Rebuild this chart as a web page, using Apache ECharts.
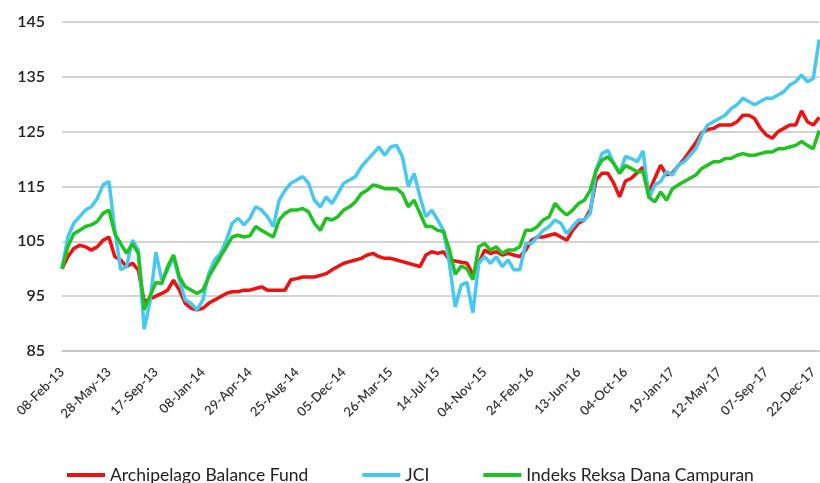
<!DOCTYPE html>
<html>
<head>
<meta charset="utf-8">
<script src="https://cdn.jsdelivr.net/npm/echarts@6/dist/echarts.min.js"></script>
<style>
  html, body { margin: 0; padding: 0; background: #fff; }
  #chart { width: 820px; height: 483px; }
</style>
</head>
<body>
<div id="chart"></div>
<script>
// tick labels on the x axis (every 8th sample)
var labelDates = ['08-Feb-13', '28-May-13', '17-Sep-13', '08-Jan-14', '29-Apr-14', '25-Aug-14',
    '05-Dec-14', '26-Mar-15', '14-Jul-15', '04-Nov-15', '24-Feb-16', '13-Jun-16', '04-Oct-16',
    '19-Jan-17', '12-May-17', '07-Sep-17', '22-Dec-17'];
var tailDate = '29-Dec-17';
var stepsPerLabel = 8;

var seriesNames = ['Archipelago Balance Fund', 'JCI', 'Indeks Reksa Dana Campuran'];

var archipelago = [
    100, 102.2, 103.7, 104.3, 104, 103.4, 104, 105.2,
    105.8, 102.2, 101.6, 100.4, 101, 99.8, 94, 94.5,
    95, 95.5, 96.1, 97.9, 96.1, 93.7, 92.8, 92.5,
    92.8, 93.7, 94.3, 94.9, 95.5, 95.8, 95.8, 96.1,
    96.1, 96.4, 96.7, 96.1, 96.1, 96.1, 96.1, 98,
    98.2, 98.5, 98.5, 98.5, 98.8, 99.1, 99.8, 100.4,
    101, 101.3, 101.6, 101.9, 102.5, 102.8, 102.2, 101.9,
    101.9, 101.6, 101.3, 101, 100.7, 100.4, 102.5, 103.1,
    102.8, 103.1, 101.6, 101.4, 101.2, 101, 99, 101,
    103.4, 102.8, 103.1, 102.5, 102.8, 102.5, 102.2, 103.4,
    105.2, 105.8, 105.8, 106.1, 106.4, 105.8, 105.2, 107,
    108.3, 108.9, 110.7, 116.2, 117.4, 117.4, 115.6, 113.1,
    116, 116.5, 117.5, 118.5, 114, 116.5, 118.9, 117.1,
    117.5, 118.8, 120, 121.5, 123, 124.8, 125.4, 125.6,
    126.2, 126.2, 126.2, 126.8, 128, 128, 127.4, 125.6,
    124.4, 123.8, 125, 125.6, 126.2, 126.2, 128.8, 126.8,
    126.2, 127.6
];

var jci = [
    100, 105.8, 108.3, 109.5, 110.7, 111.3, 112.8, 115.3,
    115.9, 107, 99.8, 100.4, 105.2, 103.4, 89, 94,
    103, 97.9, 99.8, 102.2, 97.9, 94.3, 93.7, 92.5,
    94.3, 99.1, 101.6, 102.8, 105.2, 108.3, 109.2, 108,
    109.2, 111.3, 110.7, 109.5, 107.7, 112.5, 114.3, 115.6,
    116.2, 116.8, 115.6, 112.5, 111.3, 113.1, 111.9, 113.7,
    115.6, 116.2, 116.8, 118.6, 119.8, 121, 122.2, 120.7,
    122.2, 122.5, 120.4, 115, 117.4, 113.1, 109.5, 110.7,
    108.9, 107, 101, 93, 97, 97.5, 92, 101,
    102.2, 101, 102.2, 100.4, 101.6, 99.8, 99.8, 104.6,
    104.6, 105.8, 107, 107.7, 108.9, 108.3, 106.4, 107.7,
    108.9, 108.9, 110.1, 118, 121, 121.6, 119.2, 117.4,
    120.5, 120.1, 119.5, 121.5, 112.8, 115.3, 115.9, 117.7,
    117.1, 118.9, 119.5, 120.7, 121.9, 124.4, 126.2, 126.8,
    127.4, 128, 129.2, 129.9, 131.1, 130.5, 129.9, 130.5,
    131.1, 131.1, 131.7, 132.3, 133.5, 134.1, 135.3, 134.1,
    134.7, 141.8
];

var campuran = [
    100, 104, 106.4, 107, 107.7, 108, 108.6, 110.1,
    110.7, 106.4, 104.6, 102.8, 104.6, 102.8, 92.5, 95,
    97.5, 97.3, 100.4, 102.5, 98.5, 96.7, 96.1, 95.5,
    96.1, 98.5, 100.4, 102.2, 104, 105.8, 106.1, 105.8,
    106, 107.7, 107, 106.4, 105.8, 108.9, 110.1, 110.7,
    110.7, 111, 110.4, 108.3, 107, 109.2, 108.9, 109.5,
    110.7, 111.3, 112.2, 113.7, 114.3, 115.3, 115, 114.6,
    114.6, 114.6, 113.7, 111.3, 112.5, 110.1, 107.7, 107.7,
    107, 106.8, 103.5, 99, 100.5, 100, 98, 104,
    104.6, 103.4, 104, 102.8, 103.4, 103.4, 104, 107,
    107, 107.7, 108.9, 109.5, 111.9, 110.7, 109.8, 110.7,
    111.9, 112.5, 114.3, 118, 119.8, 120.4, 119.2, 117.4,
    118.8, 118.3, 117.7, 117.7, 113, 112.2, 114, 112.5,
    114.6, 115.3, 115.9, 116.5, 117.1, 118.3, 118.9, 119.5,
    119.5, 120.1, 120.1, 120.7, 121, 120.7, 120.7, 121,
    121.3, 121.3, 121.9, 121.9, 122.2, 122.5, 123.2, 122.5,
    121.9, 125.2
];

var monthNames = ['Jan', 'Feb', 'Mar', 'Apr', 'May', 'Jun', 'Jul', 'Aug', 'Sep', 'Oct', 'Nov', 'Dec'];

function parseDate(s) {
    var p = s.split('-');
    return new Date(2000 + parseInt(p[2], 10), monthNames.indexOf(p[1]), parseInt(p[0], 10));
}

function fmtDate(d) {
    var dd = d.getDate();
    return (dd < 10 ? '0' : '') + dd + '-' + monthNames[d.getMonth()] + '-' + String(d.getFullYear()).slice(2);
}

// category dates: label dates with the sample dates in between
var categories = [];
for (var k = 0; k < labelDates.length - 1; k++) {
    var a = parseDate(labelDates[k]).getTime();
    var b = parseDate(labelDates[k + 1]).getTime();
    for (var j = 0; j < stepsPerLabel; j++) {
        if (j === 0) {
            categories.push(labelDates[k]);
        } else {
            var t = a + (b - a) * j / stepsPerLabel;
            categories.push(fmtDate(new Date(Math.round(t / 86400000) * 86400000 + 43200000)));
        }
    }
}
categories.push(labelDates[labelDates.length - 1]);
categories.push(tailDate);

var chart = echarts.init(document.getElementById('chart'));
chart.setOption({
    animation: false,
    color: ['#ee1111', '#45c9f0', '#1fc21f'],
    grid: {
        left: 62,
        right: 0,
        top: 22,
        bottom: 132
    },
    legend: {
        top: 461,
        left: 62,
        icon: 'rect',
        itemWidth: 38,
        itemHeight: 4,
        itemGap: 54,
        textStyle: {
            fontFamily: 'Lato',
            fontSize: 17.5,
            color: '#222'
        },
        data: seriesNames
    },
    xAxis: {
        type: 'category',
        boundaryGap: false,
        data: categories,
        axisLine: { lineStyle: { color: '#c4c4c4', width: 1.5 } },
        axisTick: { show: false },
        axisLabel: {
            interval: stepsPerLabel - 1,
            rotate: 45,
            margin: 19,
            fontFamily: 'Lato',
            fontSize: 13,
            fontWeight: 600,
            color: '#333'
        }
    },
    yAxis: {
        type: 'value',
        min: 85,
        max: 145,
        interval: 10,
        axisLine: { show: false },
        axisTick: { show: false },
        splitLine: { lineStyle: { color: '#c4c4c4', width: 1.5 } },
        axisLabel: {
            margin: 17,
            fontFamily: 'Lato',
            fontSize: 16,
            fontWeight: 600,
            color: '#222'
        }
    },
    series: [
        { name: seriesNames[0], type: 'line', data: archipelago, showSymbol: false, lineStyle: { width: 3.5 } },
        { name: seriesNames[1], type: 'line', data: jci, showSymbol: false, lineStyle: { width: 3.5 } },
        { name: seriesNames[2], type: 'line', data: campuran, showSymbol: false, lineStyle: { width: 3.5 } }
    ]
});
</script>
</body>
</html>
